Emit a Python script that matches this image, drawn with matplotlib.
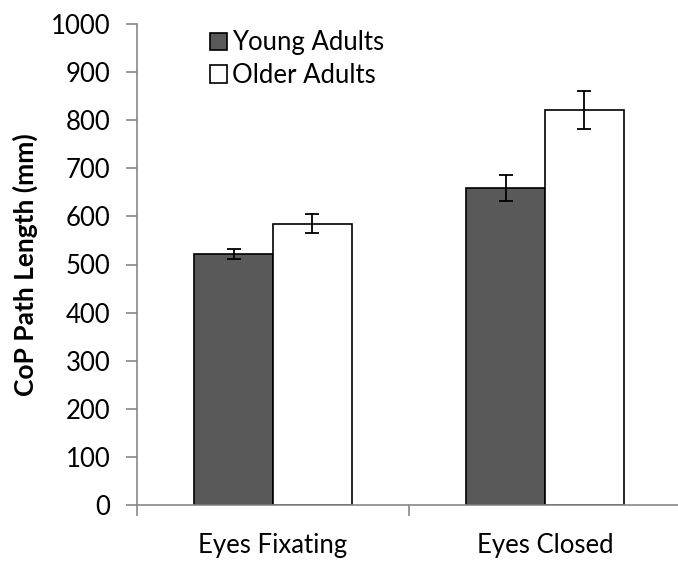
import numpy as np
import matplotlib
matplotlib.use("Agg")
import matplotlib.pyplot as plt

# data
conditions = ["Eyes Fixating", "Eyes Closed"]
young_mean = [522, 660]
young_err = [11, 27]
older_mean = [585, 821]
older_err = [19, 40]

plt.rcParams['font.family'] = ['Lato', 'DejaVu Sans']

fig = plt.figure(figsize=(6.78, 5.63), dpi=100)
ax = fig.add_axes([137/678, 1-505/563, 544/678, 481/563])

x = np.arange(len(conditions))
w = 0.289
ax.bar(x - w/2, young_mean, w, color='#595959', edgecolor='black', linewidth=1.2,
       yerr=young_err, capsize=5, error_kw=dict(elinewidth=1.3, capthick=1.3),
       label='Young Adults')
ax.bar(x + w/2, older_mean, w, color='white', edgecolor='black', linewidth=1.2,
       yerr=older_err, capsize=5, error_kw=dict(elinewidth=1.3, capthick=1.3),
       label='Older Adults')

ax.set_xlim(-0.5, 1.5)
ax.set_ylim(0, 1000)
ax.set_yticks(np.arange(0, 1001, 100))
ax.set_xticks([-0.5, 0.5, 1.5])
ax.set_xticklabels([])
ax.set_xticks(x, minor=True)
ax.set_xticklabels(conditions, minor=True)
ax.tick_params(axis='x', which='minor', length=0, pad=20, labelsize=18.5)
ax.tick_params(axis='x', which='major', length=8, color='#888888', width=1.2)
ax.tick_params(axis='y', length=8, color='#888888', width=1.2, labelsize=18.5, pad=11)

for s in ['top', 'right']:
    ax.spines[s].set_visible(False)
for s in ['left', 'bottom']:
    ax.spines[s].set_color('#888888')
    ax.spines[s].set_linewidth(1.2)

ax.set_ylabel("CoP Path Length (mm)", fontsize=19, fontweight='bold')
ax.yaxis.set_label_coords(-0.182, 0.5)

ax.legend(loc='upper left', bbox_to_anchor=(0.092, 1.035), frameon=False, fontsize=18.5,
          handlelength=0.65, handleheight=0.65, handletextpad=0.2, labelspacing=0.3)

plt.savefig('out.png', dpi=100)
